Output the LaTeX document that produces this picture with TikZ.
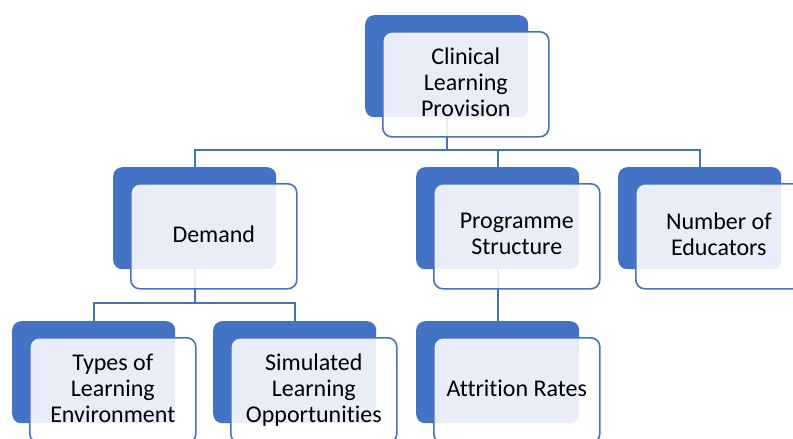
\documentclass[tikz,border=0pt]{standalone}
\usepackage{fontspec}
\setmainfont[Ligatures=NoCommon]{Carlito}
\definecolor{accent}{HTML}{4472C4}
\tikzset{
  backbox/.style={fill=accent, rounded corners=9pt, inner sep=0pt,
    minimum width=163pt, minimum height=102pt, anchor=north west},
  frontbox/.style={draw=accent, line width=1.6pt, fill=white, fill opacity=0.88,
    text opacity=1, rounded corners=9pt, inner sep=0pt,
    minimum width=166pt, minimum height=105pt, anchor=north west,
    align=center, text depth=5pt, font=\fontsize{24}{26}\selectfont},
  link/.style={draw=accent, line width=2.2pt}
}
\begin{document}
\begin{tikzpicture}[x=1pt, y=-1pt]
  \clip (0,0) rectangle (793,439);
  \fill[white] (0,0) rectangle (793,439);

  % solid back plates
  \node[backbox] (bclp) at (365,15)  {};
  \node[backbox] (bdem) at (113,167) {};
  \node[backbox] (bprg) at (416,167) {};
  \node[backbox] (bedu) at (618,167) {};
  \node[backbox] (btyp) at (12,321)  {};
  \node[backbox] (bsim) at (213,321) {};
  \node[backbox] (batt) at (416,321) {};

  % bus levels
  \coordinate (busone) at (0,150);
  \coordinate (bustwo) at (0,303);

  % connectors
  \draw[link] (bclp.south) -- (bclp.south |- busone);
  \draw[link] (bdem.north) |- (bedu.north |- busone) -- (bedu.north);
  \draw[link] (bprg.north) -- (bprg.north |- busone);
  \draw[link] (bdem.south) -- (bdem.south |- bustwo);
  \draw[link] (btyp.north) |- (bsim.north |- bustwo) -- (bsim.north);
  \draw[link] (bprg.south) -- (batt.north);

  % translucent front cards with labels
  \node[frontbox] (clp) at (382,31)  {Clinical\\Learning\\Provision};
  \node[frontbox] (dem) at (130,183) {Demand};
  \node[frontbox] (prg) at (433,183) {Programme\\Structure};
  \node[frontbox] (edu) at (635,183) {Number of\\Educators};
  \node[frontbox] (typ) at (29,337)  {Types of\\Learning\\Environment};
  \node[frontbox] (sim) at (230,337) {Simulated\\Learning\\Opportunities};
  \node[frontbox] (att) at (433,337) {Attrition Rates};
\end{tikzpicture}
\end{document}
